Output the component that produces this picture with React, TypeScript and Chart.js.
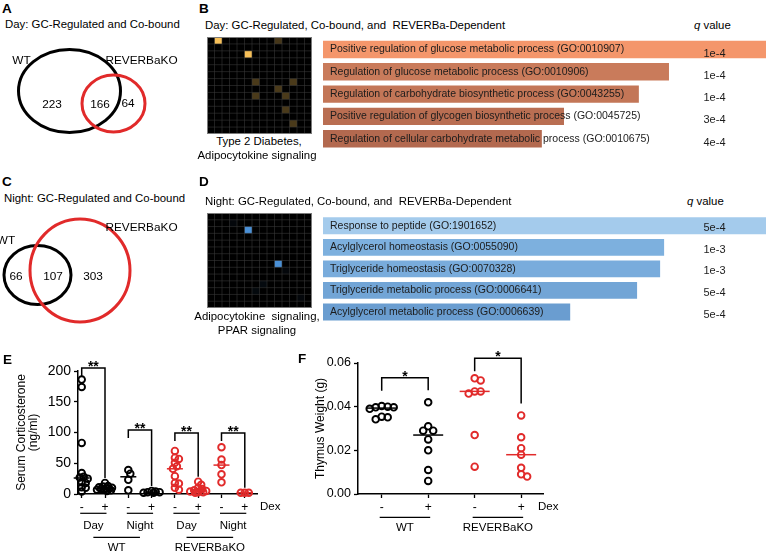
import React, { useEffect, useRef } from 'react';
import { Chart, registerables } from 'chart.js';

Chart.register(...registerables);

const FONT = '"Liberation Sans", Arial, Helvetica, sans-serif';
const RED = '#e12a2a';
const BLACK = '#000000';

// ---------------- Panel A / C : Venn counts ----------------
const vennALabels = ['WT', 'REVERBaKO'];
const vennACounts = [223, 166, 64]; // WT only, shared, KO only
const vennCLabels = ['WT', 'REVERBaKO'];
const vennCCounts = [66, 107, 303];

// ---------------- Panel B ----------------
const goTermsB = [
  'Positive regulation of glucose metabolic process (GO:0010907)',
  'Regulation of glucose metabolic process (GO:0010906)',
  'Regulation of carbohydrate biosynthetic process (GO:0043255)',
  'Positive regulation of glycogen biosynthetic process (GO:0045725)',
  'Regulation of cellular carbohydrate metabolic process (GO:0010675)',
];
const scoresB = [100, 78.1, 71.3, 54.4, 49.4];
const qValuesB = ['1e-4', '1e-4', '1e-4', '3e-4', '4e-4'];
const heatLabelB = ['Type 2 Diabetes,', 'Adipocytokine signaling'];
// [column, row, intensity]
const heatCellsB: [number, number, number][] = [
  [1, 0, 1], [5, 2, 1], [9, 0, 0.28], [6, 6, 0.3], [11, 6, 0.3],
  [9, 7, 0.3], [6, 8, 0.3], [10, 8, 0.3], [10, 10, 0.3], [11, 12, 0.3],
];

// ---------------- Panel D ----------------
const goTermsD = [
  'Response to peptide (GO:1901652)',
  'Acylglycerol homeostasis (GO:0055090)',
  'Triglyceride homeostasis (GO:0070328)',
  'Triglyceride metabolic process (GO:0006641)',
  'Acylglycerol metabolic process (GO:0006639)',
];
const scoresD = [100, 77.0, 76.1, 70.9, 55.8];
const qValuesD = ['5e-4', '1e-3', '1e-3', '5e-4', '5e-4'];
const heatLabelD = ['Adipocytokine  signaling,', 'PPAR signaling'];
const heatCellsD: [number, number, number][] = [
  [5, 2, 1], [9, 7, 1], [7, 10, 0.07], [6, 11, 0.06], [10, 8, 0.05], [3, 1, 0.05], [12, 12, 0.05],
];

// ---------------- Panel E : serum corticosterone (ng/ml) ----------------
const dexE = ['-', '+', '-', '+', '-', '+', '-', '+'];
const e_wtDayVeh = [186, 174, 83, 34, 28, 27, 25, 19, 18, 11, 10, 4];
const e_wtDayDex = [18, 13, 12, 11, 10, 9, 9, 8, 7, 7, 6, 5];
const e_wtNightVeh = [39, 33, 23, 6];
const e_wtNightDex = [5, 4, 3, 3, 2, 2];
const e_koDayVeh = [70, 59, 57, 51, 45, 41, 29, 18, 17, 10, 7];
const e_koDayDex = [20, 15, 10, 8, 6, 5, 4, 3, 3, 2];
const e_koNightVeh = [76, 56, 47, 32, 19];
const e_koNightDex = [2, 2, 2];
const timeE = ['Day', 'Night', 'Day', 'Night'];
const genotypeE = ['WT', 'REVERBaKO'];
const yTicksE = { min: 0, max: 200, step: 50 };

// ---------------- Panel F : thymus weight (g) ----------------
const dexF = ['-', '+', '-', '+'];
const f_wtVeh = [0.040, 0.0397, 0.039, 0.0397, 0.0403, 0.0354, 0.0342, 0.0351];
const f_wtDex = [0.042, 0.029, 0.029, 0.031, 0.025, 0.020, 0.011, 0.006];
const f_koVeh = [0.053, 0.052, 0.047, 0.046, 0.047, 0.027, 0.0125];
const f_koDex = [0.036, 0.026, 0.021, 0.018, 0.012, 0.008, 0.009];
const genotypeF = ['WT', 'REVERBaKO'];
const yTicksF = { min: 0, max: 0.06, step: 0.02 };

// ---------------- helpers ----------------
function median(v: number[]) {
  const s = [...v].sort((a, b) => a - b);
  const n = s.length;
  return n % 2 ? s[(n - 1) / 2] : (s[n / 2 - 1] + s[n / 2]) / 2;
}

// beeswarm: horizontal offsets (px) so that markers do not pile up
function swarm(vals: number[], pxY: number, minDist: number, maxOff: number): number[] {
  const idx = vals.map((_, i) => i).sort((a, b) => vals[b] - vals[a]);
  const placed: [number, number][] = [];
  const out = vals.map(() => 0);
  for (const i of idx) {
    const y = vals[i] * pxY;
    let best = 0;
    let bestD = -1;
    for (let k = 0; k <= 2 * maxOff; k++) {
      const off = k === 0 ? 0 : (k % 2 ? 1 : -1) * Math.ceil(k / 2);
      let d = Infinity;
      for (const [px, py] of placed) d = Math.min(d, Math.hypot(px - off, py - y));
      if (d >= minDist) { best = off; bestD = Infinity; break; }
      if (d > bestD) { bestD = d; best = off; }
    }
    placed.push([best, y]);
    out[i] = best;
  }
  return out;
}

const baseOpts = {
  responsive: false,
  animation: false as const,
  events: [] as any[],
  plugins: { legend: { display: false }, tooltip: { enabled: false } },
};

function ChartCanvas({ x, y, w, h, make }: { x: number; y: number; w: number; h: number; make: () => any }) {
  const ref = useRef<HTMLCanvasElement>(null);
  useEffect(() => {
    const chart = new Chart(ref.current as HTMLCanvasElement, make());
    return () => chart.destroy();
  }, []);
  return (
    <canvas
      ref={ref}
      width={w}
      height={h}
      style={{ position: 'absolute', left: x, top: y, width: w, height: h }}
    />
  );
}

function T({ x, y, s = 11.4, b = false, a = 'left', children }: any) {
  const tx = a === 'center' ? '-50%' : a === 'right' ? '-100%' : '0';
  return (
    <div
      style={{
        position: 'absolute', left: x, top: y, transform: `translate(${tx}, -50%)`,
        fontFamily: FONT, fontSize: s, fontWeight: b ? 'bold' : 'normal', lineHeight: 1,
        whiteSpace: 'pre', color: '#000',
      }}
    >
      {children}
    </div>
  );
}

// ---------------- Venn ----------------
// layout: [cx, cy, rx, ry] in panel pixel units
function vennConfig(
  top: number, w: number, h: number, labels: string[], counts: number[],
  shapes: number[][], labelPos: number[][], countPos: number[][],
) {
  return {
    type: 'scatter',
    data: { datasets: [{ data: shapes.map((s) => ({ x: s[0], y: s[1] })), pointRadius: 0 }] },
    options: {
      ...baseOpts,
      layout: { padding: 0 },
      scales: {
        x: { type: 'linear', display: false, min: 0, max: w },
        y: { type: 'linear', display: false, min: top, max: top + h, reverse: true },
      },
    },
    plugins: [{
      id: 'venn',
      afterDatasetsDraw(chart: any) {
        const { ctx } = chart;
        const xs = chart.scales.x, ys = chart.scales.y;
        ctx.save();
        shapes.forEach((s, i) => {
          const cx = xs.getPixelForValue(s[0]), cy = ys.getPixelForValue(s[1]);
          const rx = Math.abs(xs.getPixelForValue(s[0] + s[2]) - cx);
          const ry = Math.abs(ys.getPixelForValue(s[1] + s[3]) - cy);
          ctx.beginPath();
          ctx.ellipse(cx, cy, rx, ry, 0, 0, Math.PI * 2);
          ctx.lineWidth = 3;
          ctx.strokeStyle = i === 0 ? BLACK : RED;
          ctx.stroke();
        });
        ctx.fillStyle = '#000';
        ctx.textAlign = 'center';
        ctx.textBaseline = 'middle';
        ctx.font = `11.8px ${FONT}`;
        labels.forEach((l, i) => ctx.fillText(l, xs.getPixelForValue(labelPos[i][0]), ys.getPixelForValue(labelPos[i][1])));
        counts.forEach((c, i) => ctx.fillText(String(c), xs.getPixelForValue(countPos[i][0]), ys.getPixelForValue(countPos[i][1])));
        ctx.restore();
      },
    }],
  };
}

// ---------------- Heatmap ----------------
function heatConfig(cells: [number, number, number][], n: number, hi: number[]) {
  return {
    type: 'scatter',
    data: { datasets: [{ data: cells.map((c) => ({ x: c[0] + 0.5, y: c[1] + 0.5 })), pointRadius: 0 }] },
    options: {
      ...baseOpts,
      layout: { padding: 0 },
      scales: {
        x: { type: 'linear', display: false, min: 0, max: n },
        y: { type: 'linear', display: false, min: 0, max: n, reverse: true },
      },
    },
    plugins: [{
      id: 'heat',
      beforeDatasetsDraw(chart: any) {
        const { ctx, chartArea: a } = chart;
        const xs = chart.scales.x, ys = chart.scales.y;
        ctx.save();
        ctx.fillStyle = '#000';
        ctx.fillRect(a.left, a.top, a.right - a.left, a.bottom - a.top);
        cells.forEach(([c, r, v]) => {
          const x0 = xs.getPixelForValue(c), x1 = xs.getPixelForValue(c + 1);
          const y0 = ys.getPixelForValue(r), y1 = ys.getPixelForValue(r + 1);
          ctx.fillStyle = `rgb(${hi.map((q) => Math.round(q * v)).join(',')})`;
          ctx.fillRect(x0, y0, x1 - x0, y1 - y0);
        });
        ctx.strokeStyle = 'rgba(58,58,58,0.8)';
        ctx.lineWidth = 0.7;
        for (let i = 1; i < n; i++) {
          const x = xs.getPixelForValue(i), y = ys.getPixelForValue(i);
          ctx.beginPath(); ctx.moveTo(x, a.top); ctx.lineTo(x, a.bottom); ctx.stroke();
          ctx.beginPath(); ctx.moveTo(a.left, y); ctx.lineTo(a.right, y); ctx.stroke();
        }
        ctx.strokeStyle = '#7a7a7a';
        ctx.lineWidth = 1;
        ctx.strokeRect(a.left + 0.5, a.top + 0.5, a.right - a.left - 1, a.bottom - a.top - 1);
        ctx.restore();
      },
    }],
  };
}

// ---------------- Horizontal bars ----------------
function barsConfig(
  labels: string[], values: number[], colors: string[], qvals: string[],
  padTop: number, padBottom: number, qX: number, qDy: number,
) {
  return {
    type: 'bar',
    data: {
      labels,
      datasets: [{ data: values, backgroundColor: colors, borderWidth: 0, barPercentage: 0.78, categoryPercentage: 1 }],
    },
    options: {
      ...baseOpts,
      indexAxis: 'y',
      layout: { padding: { top: padTop, bottom: padBottom, left: 0, right: 2 } },
      scales: { x: { display: false, min: 0, max: 100 }, y: { display: false } },
    },
    plugins: [{
      id: 'barText',
      afterDatasetsDraw(chart: any) {
        const { ctx, chartArea: a } = chart;
        const meta = chart.getDatasetMeta(0);
        ctx.save();
        ctx.fillStyle = '#1c1c1c';
        ctx.textBaseline = 'middle';
        meta.data.forEach((bar: any, i: number) => {
          ctx.font = `10.5px ${FONT}`;
          ctx.textAlign = 'left';
          ctx.fillText(labels[i], a.left + 7, bar.y);
          ctx.font = `11px ${FONT}`;
          ctx.textAlign = 'center';
          ctx.fillText(qvals[i], qX, bar.y + qDy);
        });
        ctx.restore();
      },
    }],
  };
}

// ---------------- Dot plots (E, F) ----------------
function dotConfig(c: any) {
  const areaW = c.w - c.axisWidth - c.padRight;
  const areaH = c.h - c.xAxisHeight - c.padTop;
  const pxX = areaW / (c.xMax - c.xMin);
  const pxY = areaH / (c.yMax - c.yMin);
  const datasets = c.groups.map((vals: number[], g: number) => {
    const offs = swarm(vals, pxY, c.minDist, c.maxOff);
    return {
      data: vals.map((v, j) => ({ x: g + offs[j] / pxX, y: v })),
      borderColor: c.colors[g],
      backgroundColor: 'rgba(255,255,255,0)',
      pointRadius: c.radius,
      pointHoverRadius: c.radius,
      pointBorderWidth: c.border,
      showLine: false,
      clip: false,
    };
  });
  const axisCommon = {
    border: { display: true, color: '#000', width: 1.5 },
    grid: { display: true, drawOnChartArea: false, drawTicks: true, tickLength: 4, tickWidth: 1.3, tickColor: '#000', color: '#000' },
  };
  return {
    type: 'scatter',
    data: { datasets },
    options: {
      ...baseOpts,
      layout: { padding: { top: c.padTop, right: c.padRight, left: 0, bottom: 0 } },
      scales: {
        x: {
          type: 'linear', min: c.xMin, max: c.xMax, ...axisCommon,
          afterBuildTicks: (s: any) => { s.ticks = c.groups.map((_: any, i: number) => ({ value: i })); },
          afterFit: (s: any) => { s.height = c.xAxisHeight; },
          ticks: {
            autoSkip: false, maxRotation: 0, padding: 2, color: '#000',
            font: { family: FONT, size: 12 },
            callback: (v: any) => c.tickLabels[Math.round(Number(v))] ?? '',
          },
        },
        y: {
          type: 'linear', min: c.yMin, max: c.yMax, ...axisCommon,
          afterFit: (s: any) => { s.width = c.axisWidth; },
          ticks: {
            stepSize: c.yStep, padding: 3, color: '#000',
            font: { family: FONT, size: c.yTickSize },
            callback: (v: any) => c.yFmt(Number(v)),
          },
        },
      },
    },
    plugins: [{
      id: 'dotAnn',
      afterDatasetsDraw(chart: any) {
        const { ctx, chartArea: a } = chart;
        const xs = chart.scales.x, ys = chart.scales.y;
        const X = (v: number) => xs.getPixelForValue(v);
        const Y = (v: number) => ys.getPixelForValue(v);
        ctx.save();
        // medians
        ctx.lineWidth = 1.5;
        c.groups.forEach((vals: number[], g: number) => {
          const m = Y(median(vals));
          ctx.strokeStyle = c.colors[g];
          ctx.beginPath(); ctx.moveTo(X(g) - c.medianHalf, m); ctx.lineTo(X(g) + c.medianHalf, m); ctx.stroke();
        });
        // significance brackets
        ctx.strokeStyle = '#000';
        ctx.fillStyle = '#000';
        ctx.lineWidth = 1.5;
        c.brackets.forEach((b: any) => {
          const x1 = X(b.from), x2 = X(b.to), yt = Y(b.top);
          const yr = Y(Math.max(...c.groups[b.to])) - c.rightGap;
          ctx.beginPath();
          ctx.moveTo(x1, yt + c.leftLeg); ctx.lineTo(x1, yt); ctx.lineTo(x2, yt); ctx.lineTo(x2, yr);
          ctx.stroke();
          ctx.font = `bold 14px ${FONT}`;
          ctx.textAlign = 'center';
          ctx.textBaseline = 'alphabetic';
          ctx.fillText(b.label, (x1 + x2) / 2, yt + 3);
        });
        // y title
        ctx.font = `12px ${FONT}`;
        ctx.textAlign = 'center';
        ctx.textBaseline = 'middle';
        const cy = (a.top + a.bottom) / 2;
        c.yTitle.forEach((t: string, i: number) => {
          ctx.save();
          ctx.translate(c.yTitleX[i], cy);
          ctx.rotate(-Math.PI / 2);
          ctx.fillText(t, 0, 0);
          ctx.restore();
        });
        // Dex
        ctx.font = `11.5px ${FONT}`;
        ctx.textAlign = 'left';
        ctx.fillText('Dex', c.dexX, c.dexY);
        // grouping rows
        ctx.lineWidth = 1.2;
        c.rows.forEach((r: any) => {
          r.spans.forEach(([s, e]: number[], i: number) => {
            ctx.beginPath();
            ctx.moveTo(X(s) - r.ext, r.lineY); ctx.lineTo(X(e) + r.ext, r.lineY);
            ctx.stroke();
            ctx.textAlign = 'center';
            ctx.fillText(r.labels[i], (X(s) + X(e)) / 2, r.textY);
          });
        });
        ctx.restore();
      },
    }],
  };
}

const groupsE = [e_wtDayVeh, e_wtDayDex, e_wtNightVeh, e_wtNightDex, e_koDayVeh, e_koDayDex, e_koNightVeh, e_koNightDex];
const groupsF = [f_wtVeh, f_wtDex, f_koVeh, f_koDex];

const makeE = () => dotConfig({
  w: 300, h: 228, axisWidth: 78, xAxisHeight: 64, padTop: 41, padRight: 43,
  xMin: -0.159, xMax: 7.524,
  yMin: yTicksE.min, yMax: yTicksE.max, yStep: yTicksE.step, yFmt: (v: number) => String(Math.round(v)),
  yTickSize: 14,
  groups: groupsE,
  colors: [BLACK, BLACK, BLACK, BLACK, RED, RED, RED, RED],
  tickLabels: dexE,
  minDist: 4, maxOff: 8, radius: 3.3, border: 1.9, medianHalf: 8,
  brackets: [
    { from: 0, to: 1, top: 205, label: '**' },
    { from: 2, to: 3, top: 104, label: '**' },
    { from: 4, to: 5, top: 99, label: '**' },
    { from: 6, to: 7, top: 99, label: '**' },
  ],
  leftLeg: 8, rightGap: 5,
  yTitle: ['Serum Corticosterone', '(ng/ml)'], yTitleX: [22, 34],
  dexX: 260, dexY: 176.7,
  rows: [
    { spans: [[0, 1], [2, 3], [4, 5], [6, 7]], labels: timeE, lineY: 183.3, textY: 196, ext: 1.5 },
    { spans: [[0.5, 2.5], [4.5, 6.5]], labels: genotypeE, lineY: 207.3, textY: 218, ext: 0 },
  ],
});

const makeF = () => dotConfig({
  w: 280, h: 228, axisWidth: 68, xAxisHeight: 64, padTop: 33, padRight: 27,
  xMin: -0.51, xMax: 3.47,
  yMin: yTicksF.min, yMax: yTicksF.max, yStep: yTicksF.step, yFmt: (v: number) => v.toFixed(2),
  yTickSize: 12.5,
  groups: groupsF,
  colors: [BLACK, BLACK, RED, RED],
  tickLabels: dexF,
  minDist: 6, maxOff: 16, radius: 3.3, border: 1.9, medianHalf: 15,
  brackets: [
    { from: 0, to: 1, top: 0.0533, label: '*' },
    { from: 2, to: 3, top: 0.0622, label: '*' },
  ],
  leftLeg: 13, rightGap: 12,
  yTitle: ['Thymus Weight (g)'], yTitleX: [31],
  dexX: 248, dexY: 176.7,
  rows: [
    { spans: [[0, 1], [2, 3]], labels: genotypeF, lineY: 187.3, textY: 198, ext: 2 },
  ],
});

const makeVennA = () => vennConfig(
  40, 200, 130, vennALabels, vennACounts,
  [[69.5, 91, 51, 41.5], [113.5, 103.5, 31.5, 28.5]],
  [[21.5, 61], [141.5, 61]],
  [[52, 105], [100, 105], [128, 104]],
);
const makeVennC = () => vennConfig(
  205, 200, 130, vennCLabels, vennCCounts,
  [[37.5, 275, 33.5, 29.5], [80, 270.5, 50, 51.5]],
  [[6, 241], [141.5, 228]],
  [[16, 277], [53, 277], [93, 277]],
);

const barColorsB = ['#f4966b', '#c97b5b', '#c37657', '#b96e52', '#b3694f'];
const barColorsD = ['#a4cbec', '#7db0de', '#79acdc', '#72a5d6', '#6a9dd0'];

const makeBarsB = () => barsConfig(goTermsB, scoresB, barColorsB, qValuesB, 2.35, 2.15, 391.5, 4);
const makeBarsD = () => barsConfig(goTermsD, scoresD, barColorsD, qValuesD, 2.97, 3.23, 391.5, 2.5);
const makeHeatB = () => heatConfig(heatCellsB, 14, [247, 192, 88]);
const makeHeatD = () => heatConfig(heatCellsD, 14, [74, 144, 214]);

export default function App() {
  useEffect(() => {
    document.body.style.margin = '0';
  }, []);
  return (
    <div style={{ position: 'absolute', left: 0, top: 0, width: 768, height: 558, background: '#fff', overflow: 'hidden' }}>
      <ChartCanvas x={0} y={40} w={200} h={130} make={makeVennA} />
      <ChartCanvas x={0} y={205} w={200} h={130} make={makeVennC} />
      <ChartCanvas x={207} y={37} w={105} h={97} make={makeHeatB} />
      <ChartCanvas x={207} y={213} w={105} h={95} make={makeHeatD} />
      <ChartCanvas x={323} y={36} w={445} h={116} make={makeBarsB} />
      <ChartCanvas x={323} y={212} w={445} h={114} make={makeBarsD} />
      <ChartCanvas x={290} y={330} w={280} h={228} make={makeF} />
      <ChartCanvas x={0} y={330} w={300} h={228} make={makeE} />

      <T x={2} y={9} s={13.5} b>A</T>
      <T x={5} y={25}>Day: GC-Regulated and Co-bound</T>
      <T x={199} y={9} s={13.5} b>B</T>
      <T x={205} y={26}>Day: GC-Regulated, Co-bound, and  REVERBa-Dependent</T>
      <T x={694} y={26}><i>q</i> value</T>
      <T x={259} y={142} a="center">{heatLabelB[0]}</T>
      <T x={257} y={156} a="center">{heatLabelB[1]}</T>

      <T x={2} y={181.5} s={13.5} b>C</T>
      <T x={4} y={199}>Night: GC-Regulated and Co-bound</T>
      <T x={199} y={181.5} s={13.5} b>D</T>
      <T x={205} y={202}>Night: GC-Regulated, Co-bound, and  REVERBa-Dependent</T>
      <T x={687} y={202}><i>q</i> value</T>
      <T x={257} y={317} a="center">{heatLabelD[0]}</T>
      <T x={257} y={331} a="center">{heatLabelD[1]}</T>

      <T x={3} y={360} s={13.5} b>E</T>
      <T x={298} y={359} s={13.5} b>F</T>
    </div>
  );
}
